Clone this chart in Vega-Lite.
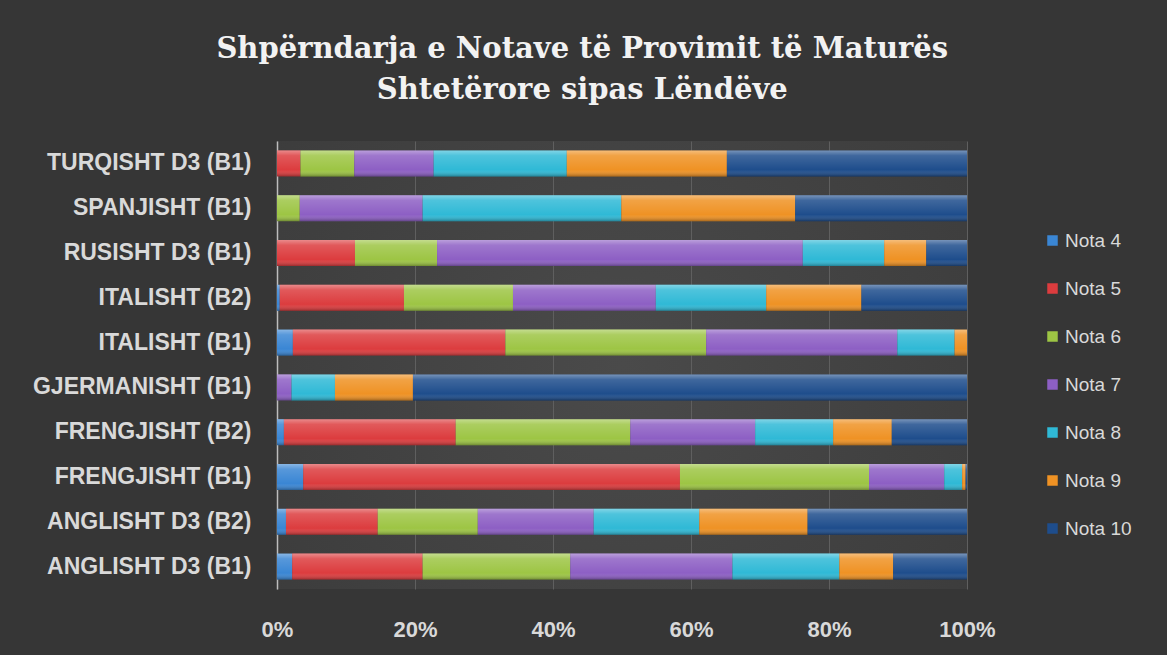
{
  "$schema": "https://vega.github.io/schema/vega-lite/v6.json",
  "autosize": {"type": "none"},
  "width": 690,
  "height": 448,
  "padding": {"left": 277, "top": 141, "right": 200, "bottom": 66},
  "background": "#363636",
  "config": {
    "view": {"stroke": null, "fill": {"gradient": "radial", "x1": 0.5, "y1": 0.5, "r1": 0, "x2": 0.5, "y2": 0.5, "r2": 0.8, "stops": [{"offset": 0, "color": "#4a4a4a"}, {"offset": 1, "color": "#383838"}]}},
    "font": "Liberation Sans"
  },
  "title": {
    "text": ["Shpërndarja e Notave të Provimit të Maturës", "Shtetërore sipas Lëndëve"],
    "font": "DejaVu Serif",
    "fontSize": 29,
    "fontWeight": "bold",
    "color": "#f2f2f2",
    "lineHeight": 41,
    "anchor": "middle",
    "frame": "bounds",
    "offset": 36
  },
  "data": {
    "values": [
      {"subject": "TURQISHT D3 (B1)", "nota": "Nota 4", "n": 4, "value": 0},
      {"subject": "TURQISHT D3 (B1)", "nota": "Nota 5", "n": 5, "value": 3.4},
      {"subject": "TURQISHT D3 (B1)", "nota": "Nota 6", "n": 6, "value": 7.8},
      {"subject": "TURQISHT D3 (B1)", "nota": "Nota 7", "n": 7, "value": 11.5},
      {"subject": "TURQISHT D3 (B1)", "nota": "Nota 8", "n": 8, "value": 19.3},
      {"subject": "TURQISHT D3 (B1)", "nota": "Nota 9", "n": 9, "value": 23.2},
      {"subject": "TURQISHT D3 (B1)", "nota": "Nota 10", "n": 10, "value": 34.8},
      {"subject": "SPANJISHT (B1)", "nota": "Nota 4", "n": 4, "value": 0},
      {"subject": "SPANJISHT (B1)", "nota": "Nota 5", "n": 5, "value": 0},
      {"subject": "SPANJISHT (B1)", "nota": "Nota 6", "n": 6, "value": 3.3},
      {"subject": "SPANJISHT (B1)", "nota": "Nota 7", "n": 7, "value": 17.8},
      {"subject": "SPANJISHT (B1)", "nota": "Nota 8", "n": 8, "value": 28.8},
      {"subject": "SPANJISHT (B1)", "nota": "Nota 9", "n": 9, "value": 25.2},
      {"subject": "SPANJISHT (B1)", "nota": "Nota 10", "n": 10, "value": 24.9},
      {"subject": "RUSISHT D3 (B1)", "nota": "Nota 4", "n": 4, "value": 0},
      {"subject": "RUSISHT D3 (B1)", "nota": "Nota 5", "n": 5, "value": 11.3},
      {"subject": "RUSISHT D3 (B1)", "nota": "Nota 6", "n": 6, "value": 11.9},
      {"subject": "RUSISHT D3 (B1)", "nota": "Nota 7", "n": 7, "value": 53.0},
      {"subject": "RUSISHT D3 (B1)", "nota": "Nota 8", "n": 8, "value": 11.8},
      {"subject": "RUSISHT D3 (B1)", "nota": "Nota 9", "n": 9, "value": 6.1},
      {"subject": "RUSISHT D3 (B1)", "nota": "Nota 10", "n": 10, "value": 5.9},
      {"subject": "ITALISHT (B2)", "nota": "Nota 4", "n": 4, "value": 0.4},
      {"subject": "ITALISHT (B2)", "nota": "Nota 5", "n": 5, "value": 18.0},
      {"subject": "ITALISHT (B2)", "nota": "Nota 6", "n": 6, "value": 15.8},
      {"subject": "ITALISHT (B2)", "nota": "Nota 7", "n": 7, "value": 20.7},
      {"subject": "ITALISHT (B2)", "nota": "Nota 8", "n": 8, "value": 16.0},
      {"subject": "ITALISHT (B2)", "nota": "Nota 9", "n": 9, "value": 13.8},
      {"subject": "ITALISHT (B2)", "nota": "Nota 10", "n": 10, "value": 15.3},
      {"subject": "ITALISHT (B1)", "nota": "Nota 4", "n": 4, "value": 2.3},
      {"subject": "ITALISHT (B1)", "nota": "Nota 5", "n": 5, "value": 30.8},
      {"subject": "ITALISHT (B1)", "nota": "Nota 6", "n": 6, "value": 29.1},
      {"subject": "ITALISHT (B1)", "nota": "Nota 7", "n": 7, "value": 27.7},
      {"subject": "ITALISHT (B1)", "nota": "Nota 8", "n": 8, "value": 8.3},
      {"subject": "ITALISHT (B1)", "nota": "Nota 9", "n": 9, "value": 1.8},
      {"subject": "ITALISHT (B1)", "nota": "Nota 10", "n": 10, "value": 0},
      {"subject": "GJERMANISHT (B1)", "nota": "Nota 4", "n": 4, "value": 0},
      {"subject": "GJERMANISHT (B1)", "nota": "Nota 5", "n": 5, "value": 0},
      {"subject": "GJERMANISHT (B1)", "nota": "Nota 6", "n": 6, "value": 0},
      {"subject": "GJERMANISHT (B1)", "nota": "Nota 7", "n": 7, "value": 2.1},
      {"subject": "GJERMANISHT (B1)", "nota": "Nota 8", "n": 8, "value": 6.3},
      {"subject": "GJERMANISHT (B1)", "nota": "Nota 9", "n": 9, "value": 11.3},
      {"subject": "GJERMANISHT (B1)", "nota": "Nota 10", "n": 10, "value": 80.3},
      {"subject": "FRENGJISHT (B2)", "nota": "Nota 4", "n": 4, "value": 1.0},
      {"subject": "FRENGJISHT (B2)", "nota": "Nota 5", "n": 5, "value": 24.9},
      {"subject": "FRENGJISHT (B2)", "nota": "Nota 6", "n": 6, "value": 25.3},
      {"subject": "FRENGJISHT (B2)", "nota": "Nota 7", "n": 7, "value": 18.1},
      {"subject": "FRENGJISHT (B2)", "nota": "Nota 8", "n": 8, "value": 11.3},
      {"subject": "FRENGJISHT (B2)", "nota": "Nota 9", "n": 9, "value": 8.5},
      {"subject": "FRENGJISHT (B2)", "nota": "Nota 10", "n": 10, "value": 10.9},
      {"subject": "FRENGJISHT (B1)", "nota": "Nota 4", "n": 4, "value": 3.8},
      {"subject": "FRENGJISHT (B1)", "nota": "Nota 5", "n": 5, "value": 54.6},
      {"subject": "FRENGJISHT (B1)", "nota": "Nota 6", "n": 6, "value": 27.4},
      {"subject": "FRENGJISHT (B1)", "nota": "Nota 7", "n": 7, "value": 10.9},
      {"subject": "FRENGJISHT (B1)", "nota": "Nota 8", "n": 8, "value": 2.6},
      {"subject": "FRENGJISHT (B1)", "nota": "Nota 9", "n": 9, "value": 0.5},
      {"subject": "FRENGJISHT (B1)", "nota": "Nota 10", "n": 10, "value": 0.2},
      {"subject": "ANGLISHT D3 (B2)", "nota": "Nota 4", "n": 4, "value": 1.3},
      {"subject": "ANGLISHT D3 (B2)", "nota": "Nota 5", "n": 5, "value": 13.3},
      {"subject": "ANGLISHT D3 (B2)", "nota": "Nota 6", "n": 6, "value": 14.5},
      {"subject": "ANGLISHT D3 (B2)", "nota": "Nota 7", "n": 7, "value": 16.8},
      {"subject": "ANGLISHT D3 (B2)", "nota": "Nota 8", "n": 8, "value": 15.3},
      {"subject": "ANGLISHT D3 (B2)", "nota": "Nota 9", "n": 9, "value": 15.7},
      {"subject": "ANGLISHT D3 (B2)", "nota": "Nota 10", "n": 10, "value": 23.1},
      {"subject": "ANGLISHT D3 (B1)", "nota": "Nota 4", "n": 4, "value": 2.2},
      {"subject": "ANGLISHT D3 (B1)", "nota": "Nota 5", "n": 5, "value": 18.9},
      {"subject": "ANGLISHT D3 (B1)", "nota": "Nota 6", "n": 6, "value": 21.4},
      {"subject": "ANGLISHT D3 (B1)", "nota": "Nota 7", "n": 7, "value": 23.5},
      {"subject": "ANGLISHT D3 (B1)", "nota": "Nota 8", "n": 8, "value": 15.5},
      {"subject": "ANGLISHT D3 (B1)", "nota": "Nota 9", "n": 9, "value": 7.8},
      {"subject": "ANGLISHT D3 (B1)", "nota": "Nota 10", "n": 10, "value": 10.7}
    ]
  },
  "encoding": {
    "y": {
      "field": "subject",
      "type": "nominal",
      "sort": ["TURQISHT D3 (B1)", "SPANJISHT (B1)", "RUSISHT D3 (B1)", "ITALISHT (B2)", "ITALISHT (B1)", "GJERMANISHT (B1)", "FRENGJISHT (B2)", "FRENGJISHT (B1)", "ANGLISHT D3 (B2)", "ANGLISHT D3 (B1)"],
      "scale": {"paddingInner": 0.42, "paddingOuter": 0.21},
      "axis": {
        "title": null,
        "ticks": false,
        "domain": true,
        "domainColor": "#bdbdbd",
        "domainWidth": 1.5,
        "labelFont": "Liberation Sans",
        "labelFontSize": 23,
        "labelFontWeight": "bold",
        "labelColor": "#d9d9d9",
        "labelPadding": 26,
        "labelLimit": 400
      }
    },
    "x": {
      "field": "value",
      "type": "quantitative",
      "stack": "normalize",
      "scale": {"domain": [0, 1], "nice": false},
      "axis": {
        "title": null,
        "format": "%",
        "values": [0, 0.2, 0.4, 0.6, 0.8, 1],
        "ticks": false,
        "domain": false,
        "grid": true,
        "gridColor": "#5f5f5f",
        "gridWidth": 1,
        "labelFont": "Liberation Sans",
        "labelFontSize": 22,
        "labelFontWeight": "bold",
        "labelColor": "#d9d9d9",
        "labelPadding": 30,
        "labelFlush": false
      }
    },
    "order": {"field": "n", "type": "quantitative", "sort": "ascending"}
  },
  "layer": [
    {
      "mark": {"type": "bar"},
      "encoding": {
        "color": {
          "field": "nota",
          "type": "nominal",
          "scale": {
            "domain": ["Nota 4", "Nota 5", "Nota 6", "Nota 7", "Nota 8", "Nota 9", "Nota 10"],
            "range": ["#3a86d4", "#dc3c3e", "#9dc544", "#8d5fc4", "#2fb9d6", "#ef9224", "#1e4d8c"]
          },
          "legend": {
            "title": null,
            "orient": "none",
            "legendX": 766,
            "legendY": 90,
            "padding": 0,
            "symbolType": "square",
            "symbolSize": 110,
            "symbolStrokeWidth": 0,
            "labelFont": "Liberation Sans",
            "labelFontSize": 19,
            "labelColor": "#d9d9d9",
            "labelOffset": 3,
            "rowPadding": 28
          }
        }
      }
    },
    {
      "mark": {
        "type": "bar",
        "fill": {
          "gradient": "linear",
          "x1": 0, "y1": 0, "x2": 0, "y2": 1,
          "stops": [
            {"offset": 0, "color": "rgba(255,255,255,0.4)"},
            {"offset": 0.2, "color": "rgba(255,255,255,0.15)"},
            {"offset": 0.75, "color": "rgba(255,255,255,0)"},
            {"offset": 1, "color": "rgba(0,0,0,0.3)"}
          ]
        }
      },
      "encoding": {
        "detail": {"field": "nota", "type": "nominal"}
      }
    }
  ]
}
